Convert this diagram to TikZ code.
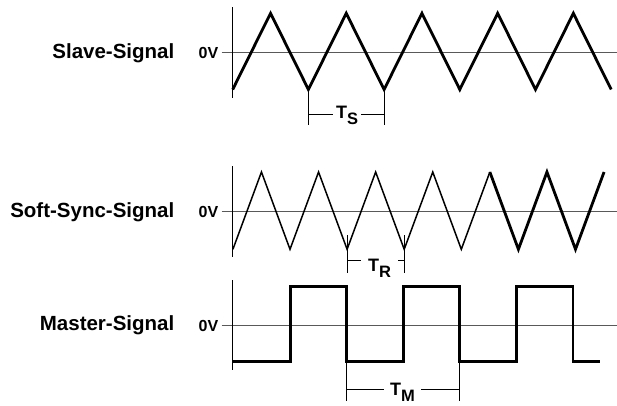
\documentclass[tikz,border=0pt]{standalone}
\usepackage{fontspec}
\setmainfont{Liberation Sans}
\usepackage{xcolor}
\usepackage{tikz}

\newcommand{\period}[1]{T\raisebox{-6pt}{\fontsize{16.5}{16.5}\selectfont #1}}

\begin{document}
\begin{tikzpicture}[x=1pt,y=-1pt,
  wave/.style={line width=2.8pt},
  softwave/.style={line width=1.5pt},
  axis/.style={line width=1.2pt},
  zeroline/.style={line width=1.2pt,black!65},
  dimline/.style={line width=1pt},
  siglabel/.style={anchor=base east,inner sep=0pt,font=\fontsize{20.5}{24}\selectfont\bfseries},
  voltlabel/.style={anchor=base east,inner sep=0pt,font=\fontsize{16}{19}\selectfont\bfseries},
  perlabel/.style={anchor=base,inner xsep=3pt,inner ysep=0pt,font=\fontsize{18}{21}\selectfont\bfseries}]
  % Slave, soft-sync and master signals against their 0V lines.

  \useasboundingbox (0,0) rectangle (617,405);

  % Slave-Signal
  \node[siglabel]  (slave)  at (174.5,58.5) {Slave-Signal};
  \node[voltlabel] (slave0) at (218.5,58) {0V};
  \draw[zeroline] (221.5,52.3) -- (617,52.3);
  \draw[axis] (232.7,7.3) -- (232.7,98.3);
  \draw[wave] (232.7,89.5) \foreach \i in {1,...,5} {-- ++(37.85,-76.2) -- ++(37.85,76.2)};

  \draw[dimline] (308.3,90) -- (308.3,124.5);
  \draw[dimline] (384,90) -- (384,124.5);
  \node[perlabel] (ts) at (347,118.3) {\period{S}};
  \coordinate (tsL) at (308.3,114);
  \coordinate (tsR) at (384,114);
  \draw[dimline] (tsL) -- (tsL -| ts.west);
  \draw[dimline] (tsR) -- (tsR -| ts.east);

  % Soft-Sync-Signal
  \node[siglabel]  (soft)  at (174.5,217.5) {Soft-Sync-Signal};
  \node[voltlabel] (soft0) at (218.5,217.2) {0V};
  \draw[zeroline] (221.5,211.5) -- (617,211.5);
  \draw[axis] (232.7,166) -- (232.7,257.3);
  \draw[softwave] (232.9,249.3) \foreach \i in {1,...,4} {-- ++(28.55,-77.3) -- ++(28.55,77.3)}
    -- ++(28.55,-77.3) coordinate (kink);
  \draw[wave] (kink) -- ++(28.55,77.3) -- ++(28.55,-77.3) -- ++(28.55,77.3) -- ++(28.55,-77.3);

  \draw[dimline] (347.2,235) -- (347.2,272.5);
  \draw[dimline] (404,235) -- (404,272.5);
  \node[perlabel,inner xsep=6.5pt] (tr) at (379.5,271.8) {\period{R}};
  \coordinate (trL) at (347.2,260.7);
  \coordinate (trR) at (404,260.7);
  \draw[dimline] (trL) -- (trL -| tr.west);
  \draw[dimline] (trR) -- (trR -| tr.east);

  % Master-Signal
  \node[siglabel]  (master)  at (174.5,330.5) {Master-Signal};
  \node[voltlabel] (master0) at (218.5,331) {0V};
  \draw[zeroline] (221.5,325.5) -- (617,325.5);
  \draw[axis] (232.7,280) -- (232.7,370);
  \draw[wave] (232.7,361.7) -| (290.2,286.4) -| (346.7,361.7) -| (403.2,286.4)
    -| (459.8,361.7) -| (516.4,286.4) -| (572.9,361.7) -- (600,361.7);

  \draw[dimline] (346.7,361.7) -- (346.7,401);
  \draw[dimline] (459.8,361.7) -- (459.8,401);
  \node[perlabel,inner xsep=6pt] (tm) at (402.5,395) {\period{M}};
  \coordinate (tmL) at (346.7,389.3);
  \coordinate (tmR) at (459.8,389.3);
  \draw[dimline] (tmL) -- (tmL -| tm.west);
  \draw[dimline] (tmR) -- (tmR -| tm.east);
\end{tikzpicture}
\end{document}
